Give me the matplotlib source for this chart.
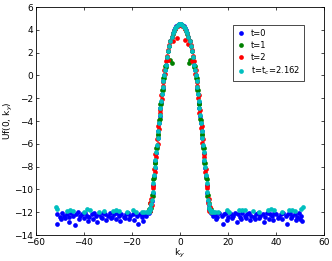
import numpy as np
import matplotlib
matplotlib.use("Agg")
import matplotlib.pyplot as plt

# ky positions along the central peak (shared by all four curves)
ky_mid = [-12.9, -12.6, -12.3, -12.0, -11.7, -11.4, -11.1, -10.8, -10.5, -10.2,
          -9.9, -9.6, -9.3, -9.0, -8.7, -8.4, -8.1, -7.8, -7.5, -7.2,
          -6.9, -6.6, -6.3, -6.0, -5.5, -5.0, -4.5, -4.0, -3.5, -3.0,
          -2.5, -2.0, -1.5, -1.0, -0.5, 0.0, 0.5, 1.0, 1.5, 2.0,
          2.5, 3.0, 3.5, 4.0, 4.5, 5.0, 5.5, 6.0, 6.3, 6.6,
          6.9, 7.2, 7.5, 7.8, 8.1, 8.4, 8.7, 9.0, 9.3, 9.6,
          9.9, 10.2, 10.5, 10.8, 11.1, 11.4, 11.7, 12.0, 12.3, 12.6,
          12.9]

u_mid_t0 = [-12.1, -11.9, -11.7, -11.4, -11.0, -10.3, -9.6, -8.8, -8.1, -7.5,
            -6.8, -6.2, -5.5, -4.9, -4.2, -3.6, -2.9, -2.3, -1.6, -1.1,
            -0.5, 0.0, 0.5, 0.9, 1.55, 2.1, 2.6, 3.0, 3.4, 3.7,
            3.95, 4.15, 4.3, 4.45, 4.52, 4.55, 4.52, 4.45, 4.3, 4.15,
            3.95, 3.7, 3.4, 3.05, 2.6, 2.1, 1.6, 0.95, 0.5, 0.0,
            -0.5, -1.1, -1.6, -2.3, -2.9, -3.6, -4.2, -4.9, -5.5, -6.2,
            -6.8, -7.5, -8.1, -8.8, -9.6, -10.3, -11.0, -11.4, -11.7, -11.9,
            -12.1]

u_mid_t1 = [-11.7, -11.9, -11.2, -11.6, -10.5, -10.6, -9.1, -9.0, -7.7, -7.7,
            -6.4, -6.4, -5.2, -5.1, -3.9, -3.8, -2.5, -2.5, -1.3, -1.3,
            -0.2, -0.2, 0.8, 0.7, 1.6, 2.15, 2.6, 3.0, 3.35, 3.65,
            3.9, 4.1, 4.25, 4.4, 4.45, 4.48, 4.45, 4.4, 4.25, 4.1,
            3.9, 3.65, 3.35, 3.0, 2.6, 2.15, 1.6, 0.7, 0.8, -0.2,
            -0.2, -1.3, -1.3, -2.5, -2.5, -3.8, -3.9, -5.1, -5.2, -6.4,
            -6.4, -7.7, -7.7, -9.0, -9.1, -10.6, -10.5, -11.6, -11.2, -11.9,
            -11.7]

u_mid_t2 = [-11.9, -11.2, -11.9, -10.8, -11.4, -9.7, -9.9, -8.2, -8.5, -6.9,
            -7.2, -5.6, -6.0, -4.4, -4.7, -3.0, -3.3, -1.7, -2.1, -0.6,
            -0.9, 0.45, 0.15, 1.3, 1.7, 2.2, 2.65, 3.05, 3.4, 3.7,
            3.9, 4.1, 4.25, 4.38, 4.44, 4.46, 4.44, 4.38, 4.25, 4.1,
            3.9, 3.7, 3.4, 3.05, 2.65, 2.2, 1.7, 1.3, 0.1, 0.45,
            -0.9, -0.6, -2.0, -1.7, -3.3, -3.0, -4.6, -4.4, -5.9, -5.6,
            -7.2, -6.9, -8.5, -8.2, -9.9, -9.7, -11.2, -10.8, -11.9, -11.5,
            -11.95]

u_mid_tc = [-11.95, -11.85, -11.6, -11.3, -10.9, -10.2, -9.45, -8.7, -8.0, -7.4,
            -6.75, -6.1, -5.5, -4.85, -4.2, -3.5, -2.85, -2.2, -1.6, -1.0,
            -0.5, 0.05, 0.5, 0.95, 1.58, 2.12, 2.6, 3.02, 3.38, 3.68,
            3.92, 4.12, 4.28, 4.42, 4.48, 4.5, 4.48, 4.42, 4.28, 4.12,
            3.92, 3.68, 3.38, 3.02, 2.6, 2.12, 1.58, 0.95, 0.5, 0.05,
            -0.5, -1.0, -1.6, -2.2, -2.85, -3.5, -4.2, -4.85, -5.5, -6.1,
            -6.75, -7.4, -8.0, -8.7, -9.45, -10.2, -10.9, -11.3, -11.6, -11.85,
            -11.95]

# points scattered inside the peak
ky_in_t1 = [-4.2, -3.5, 3.6, 4.2]
u_in_t1 = [1.35, 1.05, 1.05, 1.35]
ky_in_t2 = [-5.1, -2.8, -1.4, 2.1, 3.5, 5.2]
u_in_t2 = [1.35, 3.0, 3.25, 3.1, 2.8, 1.3]

# t=0 plateau
ky_floor_t0 = [-51.0, -50.0, -49.1, -48.2, -47.2, -46.3, -45.3, -44.4, -43.4, -42.5,
               -41.5, -40.6, -39.6, -38.7, -37.7, -36.8, -35.8, -34.9, -33.9, -33.0,
               -32.0, -31.1, -30.1, -29.2, -28.2, -27.3, -26.3, -25.4, -24.4, -23.5,
               -22.5, -21.6, -20.6, -19.7, -18.7, -17.8, -16.8, -15.9, -14.9, -14.0,
               -51.3, -49.6, -47.7, -46.0, -43.9, -42.0, -40.1, -38.2, -36.3, -34.4,
               -32.5, -30.6, -28.7, -26.8, -24.9, -23.0, -21.1, -19.2, -17.3, -15.4,
               13.6, 14.5, 15.5, 16.4, 17.4, 18.3, 19.3, 20.2, 21.2, 22.1,
               23.1, 24.0, 25.0, 25.9, 26.9, 27.8, 28.8, 29.7, 30.7, 31.6,
               32.6, 33.5, 34.5, 35.4, 36.4, 37.3, 38.3, 39.2, 40.2, 41.1,
               42.1, 43.0, 44.0, 44.9, 45.9, 46.8, 47.8, 48.7, 49.7, 50.6,
               15.0, 17.9, 19.8, 21.7, 23.6, 25.5, 27.4, 29.3, 31.2, 33.1,
               35.0, 36.9, 38.8, 40.7, 42.6, 44.5, 46.4, 48.3, 50.2, 51.0]
u_floor_t0 = [-12.2, -12.4, -12.1, -12.3, -12.2, -12.4, -12.1, -12.3, -12.2, -12.0,
              -12.3, -12.2, -12.1, -12.3, -12.4, -12.2, -12.1, -12.3, -12.2, -12.4,
              -12.1, -12.2, -12.3, -12.1, -12.4, -12.2, -12.1, -12.3, -12.2, -12.4,
              -12.2, -12.1, -12.3, -12.2, -12.1, -12.3, -12.2, -12.4, -12.2, -12.3,
              -13.0, -12.6, -12.5, -12.9, -13.1, -12.6, -12.5, -12.8, -12.6, -12.9,
              -12.5, -12.7, -12.5, -12.6, -12.8, -12.5, -12.6, -12.7, -13.0, -12.8,
              -12.3, -12.2, -12.4, -12.1, -12.3, -12.2, -12.1, -12.4, -12.2, -12.3,
              -12.1, -12.2, -12.4, -12.1, -12.3, -12.2, -12.1, -12.3, -12.4, -12.2,
              -12.1, -12.3, -12.2, -12.4, -12.1, -12.2, -12.3, -12.1, -12.2, -12.4,
              -12.2, -12.1, -12.3, -12.2, -12.1, -12.3, -12.2, -12.4, -12.1, -12.3,
              -12.6, -13.0, -12.7, -12.5, -12.9, -12.6, -12.5, -12.7, -12.6, -12.5,
              -12.9, -12.6, -12.7, -12.5, -12.6, -13.0, -12.5, -12.7, -12.6, -12.8]

# t=tc plateau
ky_floor_tc = [-51.5, -51.0, -47.0, -45.8, -44.6, -40.0, -38.6, -37.4, -33.5, -31.8,
               -28.0, -26.8, -25.4, -22.0, -19.6, -18.4, -16.0, -14.8, -13.8, -13.3,
               13.3, 13.8, 14.8, 16.0, 19.4, 20.6, 24.6, 25.8, 27.0, 30.4,
               33.0, 36.6, 37.8, 39.0, 42.5, 45.6, 46.8, 48.0, 50.6, 51.4]
u_floor_tc = [-11.5, -11.75, -11.9, -11.85, -11.9, -12.0, -11.7, -11.85, -12.0, -11.9,
              -11.9, -11.85, -11.9, -12.0, -11.85, -11.95, -12.0, -11.95, -11.95, -11.9,
              -11.9, -11.95, -12.0, -11.95, -11.85, -11.95, -11.85, -11.8, -11.85, -11.9,
              -12.0, -11.85, -11.7, -11.85, -12.0, -11.85, -11.8, -11.9, -11.7, -11.5]

labels = ['t=0', 't=1', 't=2', 't=t$_c$=2.162']
colors = ['#0000ff', '#008000', '#ff0000', '#00bfbf']

series = [
    (ky_floor_t0 + ky_mid, u_floor_t0 + u_mid_t0),
    (ky_mid + ky_in_t1, u_mid_t1 + u_in_t1),
    (ky_mid + ky_in_t2, u_mid_t2 + u_in_t2),
    (ky_floor_tc + ky_mid, u_floor_tc + u_mid_tc),
]

plt.rcParams['font.family'] = 'DejaVu Sans'
fig = plt.figure(figsize=(3.32, 2.61), dpi=100)
ax = fig.add_axes([0.108, 0.0996, 0.868, 0.8734])

for (x, y), c, lab in zip(series, colors, labels):
    ax.plot(x, y, linestyle='none', marker='o', markersize=3.4,
            markerfacecolor=c, markeredgecolor='none', label=lab)

ax.set_xlim(-60, 60)
ax.set_ylim(-14, 6)
ax.set_xticks(np.arange(-60, 61, 20))
ax.set_yticks(np.arange(-14, 7, 2))
ax.tick_params(direction='in', length=2.5, width=0.5, labelsize=6.5,
               top=True, right=True, pad=2)
for s in ax.spines.values():
    s.set_linewidth(0.6)
ax.set_xlabel('k$_y$', fontsize=6.5, labelpad=0)
ax.set_ylabel('Uf(0, k$_y$)', fontsize=6.5, labelpad=-1)

leg = ax.legend(loc='upper left', bbox_to_anchor=(0.683, 0.921), fontsize=6,
                fancybox=False, framealpha=1, edgecolor='black',
                handlelength=1.0, handletextpad=0.7, borderpad=0.45,
                labelspacing=0.35, markerscale=1.0, borderaxespad=0)
leg.get_frame().set_linewidth(0.5)

fig.savefig('out.png', dpi=100)
